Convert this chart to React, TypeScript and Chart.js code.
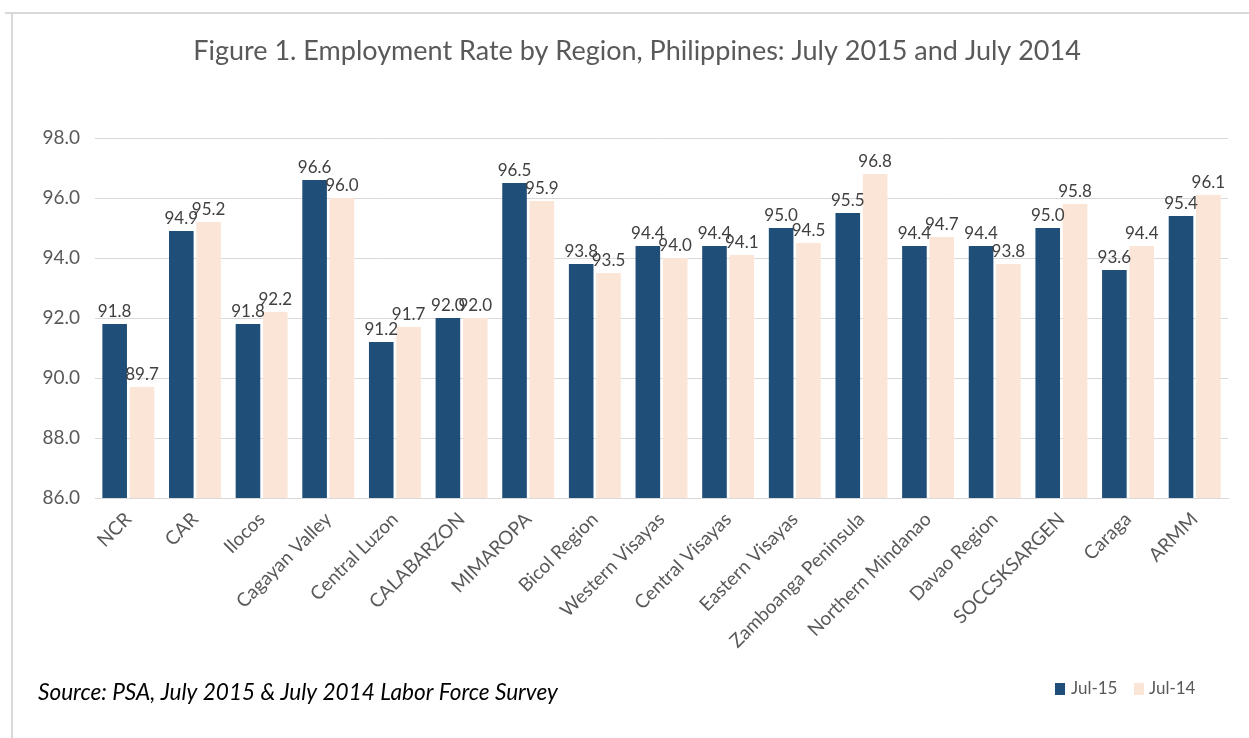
import React, { useEffect, useRef } from "react";
import { Chart, registerables } from "chart.js";

Chart.register(...registerables);

const categories = [
  "NCR", "CAR", "Ilocos", "Cagayan Valley", "Central Luzon", "CALABARZON",
  "MIMAROPA", "Bicol Region", "Western Visayas", "Central Visayas",
  "Eastern Visayas", "Zamboanga Peninsula", "Northern Mindanao",
  "Davao Region", "SOCCSKSARGEN", "Caraga", "ARMM",
];
const jul15 = [91.8, 94.9, 91.8, 96.6, 91.2, 92.0, 96.5, 93.8, 94.4, 94.4, 95.0, 95.5, 94.4, 94.4, 95.0, 93.6, 95.4];
const jul14 = [89.7, 95.2, 92.2, 96.0, 91.7, 92.0, 95.9, 93.5, 94.0, 94.1, 94.5, 96.8, 94.7, 93.8, 95.8, 94.4, 96.1];
const seriesNames = ["Jul-15", "Jul-14"];
const titleText = "Figure 1. Employment Rate by Region, Philippines: July 2015 and July 2014";
const sourceText = "Source: PSA, July 2015 & July 2014 Labor Force Survey";

const DARK = "#1f4e79";
const LIGHT = "#fbe5d6";
const FONT = "Lato, 'Open Sans', sans-serif";

const decorPlugin = {
  id: "decor",
  beforeDraw(chart: any) {
    const ctx = chart.ctx;
    ctx.save();
    ctx.fillStyle = "#ffffff";
    ctx.fillRect(0, 0, chart.width, chart.height);
    ctx.strokeStyle = "#d9d9d9";
    ctx.lineWidth = 2;
    ctx.beginPath();
    ctx.moveTo(5, 13);
    ctx.lineTo(chart.width, 13);
    ctx.moveTo(12, 13);
    ctx.lineTo(12, chart.height);
    ctx.stroke();
    ctx.restore();
  },
  afterDraw(chart: any) {
    const ctx = chart.ctx;
    ctx.save();
    // title
    ctx.fillStyle = "#595959";
    ctx.font = `27px ${FONT}`;
    ctx.textAlign = "center";
    ctx.textBaseline = "middle";
    ctx.fillText(titleText, 637, 51);
    // data labels
    ctx.font = `17px ${FONT}`;
    ctx.fillStyle = "#404040";
    ctx.textBaseline = "bottom";
    chart.data.datasets.forEach((ds: any, i: number) => {
      const meta = chart.getDatasetMeta(i);
      meta.data.forEach((bar: any, j: number) => {
        ctx.fillText(Number(ds.data[j]).toFixed(1), bar.x, bar.y - 4);
      });
    });
    // source
    ctx.font = `italic 22.6px ${FONT}`;
    ctx.fillStyle = "#000000";
    ctx.textAlign = "left";
    ctx.textBaseline = "middle";
    ctx.fillText(sourceText, 38, 693);
    // legend
    ctx.font = `17px ${FONT}`;
    ctx.fillStyle = DARK;
    ctx.fillRect(1055, 683, 10, 12);
    ctx.fillStyle = "#595959";
    ctx.fillText(seriesNames[0], 1071, 689);
    ctx.fillStyle = LIGHT;
    ctx.fillRect(1134, 683, 10, 12);
    ctx.fillStyle = "#595959";
    ctx.fillText(seriesNames[1], 1149, 689);
    ctx.restore();
  },
};

export default function App() {
  const ref = useRef<HTMLCanvasElement>(null);
  useEffect(() => {
    document.body.style.margin = "0";
    const chart = new Chart(ref.current as HTMLCanvasElement, {
      type: "bar",
      data: {
        labels: categories,
        datasets: [
          { label: seriesNames[0], data: jul15, backgroundColor: DARK, categoryPercentage: 0.82, barPercentage: 0.9 },
          { label: seriesNames[1], data: jul14, backgroundColor: LIGHT, categoryPercentage: 0.82, barPercentage: 0.9 },
        ],
      },
      options: {
        animation: false,
        responsive: false,
        layout: { padding: { left: 0, right: 21, top: 138, bottom: 80 } },
        plugins: { legend: { display: false }, title: { display: false }, tooltip: { enabled: false } },
        scales: {
          x: {
            grid: { display: false, drawTicks: false },
            border: { color: "#d9d9d9", width: 1 },
            ticks: { color: "#595959", font: { family: FONT, size: 19 }, maxRotation: 45, minRotation: 45, padding: 10, autoSkip: false },
            afterFit: (s: any) => { s.height = 160; },
          },
          y: {
            min: 86, max: 98,
            grid: { color: "#d9d9d9", drawTicks: false },
            border: { display: false },
            ticks: { stepSize: 2, color: "#595959", font: { family: FONT, size: 19 }, padding: 15, callback: (v: any) => Number(v).toFixed(1) },
            afterFit: (s: any) => { s.width = 95; },
          },
        },
      },
      plugins: [decorPlugin],
    });
    return () => chart.destroy();
  }, []);
  return (
    <div style={{ position: "absolute", left: 0, top: 0, width: 1249, height: 738 }}>
      <canvas ref={ref} width={1249} height={738} style={{ width: 1249, height: 738 }} />
    </div>
  );
}
